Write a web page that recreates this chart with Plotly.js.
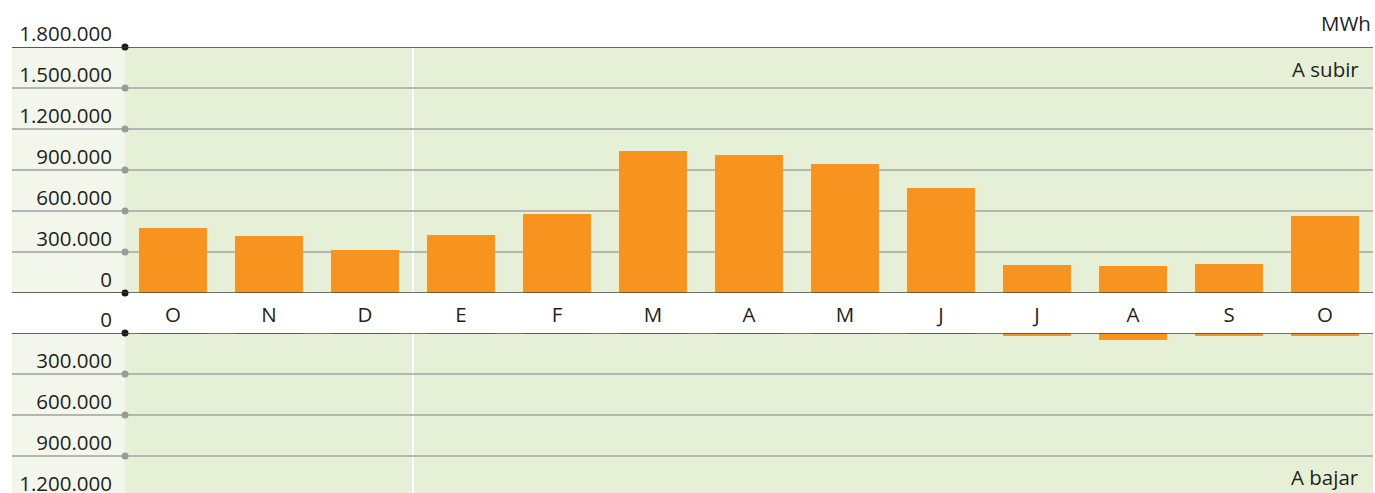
<!DOCTYPE html>
<html>
<head>
<meta charset="utf-8">
<script src="https://cdn.plot.ly/plotly-3.0.1.min.js"></script>
<style>
  html, body { margin: 0; padding: 0; background: #ffffff; overflow: hidden; }
  #wrap { width: 1375px; height: 493px; overflow: hidden; position: relative; }
  #chart { width: 1375px; height: 520px; }
</style>
</head>
<body>
<div id="wrap"><div id="chart"></div></div>
<script>
// ---- data ----
const months = ['O', 'N', 'D', 'E', 'F', 'M', 'A', 'M', 'J', 'J', 'A', 'S', 'O'];
const upValues = [475000, 417000, 315000, 424000, 578000, 1039000, 1010000, 944000, 768000, 205000, 198000, 212000, 563000];
const downValues = [8000, 8000, 8000, 8000, 8000, 8000, 8000, 8000, 8000, 22000, 51000, 22000, 22000];
const upTicks = [0, 300000, 600000, 900000, 1200000, 1500000, 1800000];
const upTickText = ['0', '300.000', '600.000', '900.000', '1.200.000', '1.500.000', '1.800.000'];
const downTicks = [0, 300000, 600000, 900000, 1200000];
const downTickText = ['0', '300.000', '600.000', '900.000', '1.200.000'];
const unitLabel = 'MWh';
const upLabel = 'A subir';
const downLabel = 'A bajar';

// ---- styling ----
const FONT = 'Open Sans, Noto Sans, sans-serif';
const FS = 20.5;
const TXT = '#231f20';
const ORANGE = '#f7931e';
const PLOTBG = '#e6f0d6';
const LEFTBG = '#f3f7eb';
const GRID = '#b4b6b0';
const idx = months.map((m, i) => i);
const leftX = -(125 - 12) / 1248;

const traces = [
  { type: 'bar', x: idx, y: upValues, xaxis: 'x', yaxis: 'y', marker: { color: ORANGE }, width: 0.708, hoverinfo: 'y' },
  { type: 'bar', x: idx, y: downValues, xaxis: 'x2', yaxis: 'y2', marker: { color: ORANGE }, width: 0.708, hoverinfo: 'y' },
  { type: 'scatter', mode: 'markers', x: upTicks.map(() => -0.5), y: upTicks, xaxis: 'x', yaxis: 'y', cliponaxis: false,
    marker: { size: 7, color: upTicks.map((v, i) => (i === 0 || i === upTicks.length - 1) ? '#1a1a1a' : '#9a9a9a') }, hoverinfo: 'skip' },
  { type: 'scatter', mode: 'markers', x: downTicks.map(() => -0.5), y: downTicks, xaxis: 'x2', yaxis: 'y2', cliponaxis: false,
    marker: { size: 7, color: downTicks.map((v, i) => i === 0 ? '#1a1a1a' : '#9a9a9a') }, hoverinfo: 'skip' }
];

const shapes = [];
// left label backgrounds
shapes.push({ type: 'rect', xref: 'paper', yref: 'y domain', x0: leftX, x1: 0, y0: 0, y1: 1, fillcolor: LEFTBG, line: { width: 0 }, layer: 'below' });
shapes.push({ type: 'rect', xref: 'paper', yref: 'y2 domain', x0: leftX, x1: 0, y0: 0, y1: 1, fillcolor: LEFTBG, line: { width: 0 }, layer: 'below' });
// left grid extensions
upTicks.forEach(v => shapes.push({ type: 'line', xref: 'paper', yref: 'y', x0: leftX, x1: 0, y0: v, y1: v, line: { color: GRID, width: 2 }, layer: 'below' }));
downTicks.forEach(v => shapes.push({ type: 'line', xref: 'paper', yref: 'y2', x0: leftX, x1: 0, y0: v, y1: v, line: { color: GRID, width: 2 }, layer: 'below' }));
// year separator
shapes.push({ type: 'line', xref: 'x', yref: 'y domain', x0: 2.5, x1: 2.5, y0: 0, y1: 1, line: { color: '#ffffff', width: 2 }, layer: 'below' });
shapes.push({ type: 'line', xref: 'x2', yref: 'y2 domain', x0: 2.5, x1: 2.5, y0: 0, y1: 1, line: { color: '#ffffff', width: 2 }, layer: 'below' });
// top line and zero lines
shapes.push({ type: 'line', xref: 'paper', yref: 'y', x0: leftX, x1: 1, y0: upTicks[upTicks.length - 1], y1: upTicks[upTicks.length - 1], line: { color: '#3a3a3a', width: 1.5 } });
shapes.push({ type: 'line', xref: 'paper', yref: 'y', x0: leftX, x1: 1, y0: 0, y1: 0, line: { color: 'rgba(60,60,60,0.7)', width: 2 } });
shapes.push({ type: 'line', xref: 'paper', yref: 'y2', x0: leftX, x1: 1, y0: 0, y1: 0, line: { color: 'rgba(60,60,60,0.7)', width: 2 } });

const layout = {
  width: 1375, height: 520,
  margin: { l: 125, r: 2, t: 47, b: 0 },
  paper_bgcolor: '#ffffff',
  plot_bgcolor: PLOTBG,
  showlegend: false,
  bargap: 0,
  font: { family: FONT, size: FS, color: TXT },
  xaxis: {
    anchor: 'y', domain: [0, 1], range: [-0.5, 12.5], tickmode: 'array', tickvals: idx, ticktext: months,
    showgrid: false, zeroline: false, showline: false, ticks: '', ticklabelstandoff: 7,
    tickfont: { family: FONT, size: FS, color: TXT }, fixedrange: true
  },
  yaxis: {
    anchor: 'x', domain: [227 / 473, 1], range: [0, 1800000], tickmode: 'array', tickvals: upTicks, ticktext: upTickText,
    showgrid: true, gridcolor: GRID, gridwidth: 2, zeroline: false, showline: false, ticks: '',
    ticklabelshift: -13, ticklabelstandoff: 12, tickfont: { family: FONT, size: FS, color: TXT }, fixedrange: true
  },
  xaxis2: {
    anchor: 'y2', domain: [0, 1], range: [-0.5, 12.5], showticklabels: false,
    showgrid: false, zeroline: false, showline: false, ticks: '', fixedrange: true
  },
  yaxis2: {
    anchor: 'x2', domain: [0, 187 / 473], range: [187 / 41 * 300000, 0], tickmode: 'array', tickvals: downTicks, ticktext: downTickText,
    showgrid: true, gridcolor: GRID, gridwidth: 2, zeroline: false, showline: false, ticks: '',
    ticklabelshift: 13, ticklabelstandoff: 12, tickfont: { family: FONT, size: FS, color: TXT }, fixedrange: true
  },
  shapes: shapes,
  annotations: [
    { text: unitLabel, xref: 'paper', yref: 'paper', x: 1, y: (520 - 23) / 473, xanchor: 'right', yanchor: 'middle', showarrow: false, font: { family: FONT, size: FS, color: TXT } },
    { text: upLabel, xref: 'paper', yref: 'paper', x: 1, xshift: -12, y: (520 - 69) / 473, xanchor: 'right', yanchor: 'middle', showarrow: false, font: { family: FONT, size: FS, color: TXT } },
    { text: downLabel, xref: 'paper', yref: 'paper', x: 1, xshift: -12, y: (520 - 477) / 473, xanchor: 'right', yanchor: 'middle', showarrow: false, font: { family: FONT, size: FS, color: TXT } }
  ]
};

Plotly.newPlot('chart', traces, layout, { displayModeBar: false, staticPlot: true });
</script>
</body>
</html>
